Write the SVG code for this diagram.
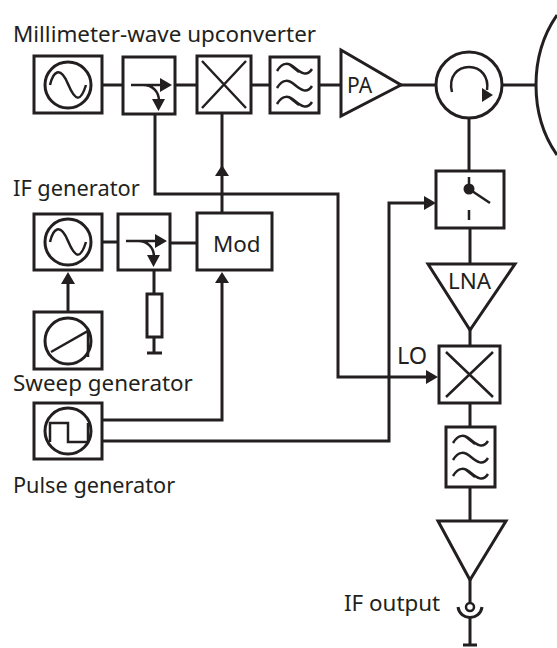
<svg xmlns="http://www.w3.org/2000/svg" width="557" height="648" viewBox="0 0 557 648">
<style>
.b{fill:#fff;stroke:#231f20;stroke-width:3}
.g{fill:none;stroke:#231f20;stroke-width:3}
.t{fill:none;stroke:#231f20;stroke-width:2.5}
.a{fill:#231f20;stroke:none}
text{font-family:"Noto Sans","Open Sans",sans-serif;font-size:22.4px;fill:#231f20}
</style>
<defs>
<g id="filt"><path class="t" d="M-18,-14C-12,-24 -6,-22 0,-17S12,-8 17,-16M-18,3C-12,-7 -6,-5 0,0S12,9 17,1M-18,19C-12,9 -6,11 0,16S12,25 17,17M-6,-21L4,-13M-6,12L4,20"/></g>
<g id="cpl"><path class="t" d="M8,0H40M20,0C30,0 36,7 36,16"/><path class="a" d="M37,-7L49,0L37,7ZM29,14H42L35.500,26Z"/></g>
</defs>
<g id="connectors" class="g">
<path d="M102,85H123M175,85H197M251,85H270M319,85H341M401,85H436M502,85H536M469,118V171"/>
<path d="M155,114V194H338V377H428"/>
<path d="M222,113V213"/>
<path d="M102,242H118M170,243H197M154,270V294M154,337V353M147,353H162"/>
<path d="M68,312V282"/>
<path d="M102,420H222V282"/>
<path d="M102,441H389V203H425"/>
<path d="M470,228V264M470,330V346M470,403V427M470,487V521M470,580V603M470,617V645M463,645H477"/>
<path class="a" d="M222,165L229,176H215ZM68,272L75,284H61ZM222,272L229,283H215ZM436,203L424,196V210ZM438,377L426,370V384Z"/>
</g>
<g id="labels">
<text x="13" y="42">Millimeter-wave upconverter</text>
<text x="13" y="196" style="font-size:21.800px">IF generator</text>
<text x="13" y="391">Sweep generator</text>
<text x="13" y="493" style="font-size:21.700px">Pulse generator</text>
<text x="397" y="364" style="font-size:23.500px">LO</text>
<text x="344" y="611">IF output</text>
</g>
<g id="lo-osc"><rect class="b" x="34" y="56" width="68" height="57"/><circle class="g" cx="68" cy="85" r="23"/><path class="t" d="M50,85C53,72 60,65 68,84S81,101 86,85"/></g>
<g id="coupler1"><rect class="b" x="123" y="57" width="52" height="57"/><use href="#cpl" x="123" y="85"/></g>
<g id="mixer1"><rect class="b" x="197" y="56" width="54" height="57"/><path class="t" d="M202,61L246,108M246,61L202,108"/></g>
<g id="filter1"><rect class="b" x="270" y="57" width="49" height="56"/><use href="#filt" x="295" y="85"/></g>
<g id="pa"><path class="b" d="M341,50L401,85L341,116Z"/><text x="347" y="93" style="font-size:21px">PA</text></g>
<g id="circulator"><circle class="b" cx="469" cy="85" r="33"/><path class="t" d="M452,92C448,76 458,67 469,67C481,67 489,77 487,90"/><path class="a" d="M482,88L493,95L482,102Z"/></g>
<path id="antenna" class="g" d="M557,15C529,55 529,115 557,155"/>
<g id="switch"><rect class="b" x="436" y="171" width="68" height="57"/><path class="t" d="M469,177V189M469,189L490,203M469,210V220"/><circle class="a" cx="469" cy="189" r="5.500"/></g>
<g id="lna"><path class="b" d="M428,264H515L470,330Z"/><text x="448" y="289">LNA</text></g>
<g id="mixer2"><rect class="b" x="439" y="346" width="61" height="57"/><path class="t" d="M446,352L493,397M493,352L446,397"/></g>
<g id="filter2"><rect class="b" x="446" y="427" width="49" height="60"/><use href="#filt" x="471" y="457"/></g>
<g id="output-amp"><path class="b" d="M438,521H506L470,580Z"/></g>
<g id="connector"><circle class="t" cx="470" cy="607" r="4"/><path class="g" d="M458,607C460,621 480,621 482,607"/></g>
<g id="if-osc"><rect class="b" x="34" y="214" width="68" height="56"/><circle class="g" cx="68" cy="242" r="23"/><path class="t" d="M50,242C53,229 60,222 68,241S81,258 86,242"/></g>
<g id="coupler2"><rect class="b" x="118" y="214" width="52" height="56"/><use href="#cpl" x="118" y="241"/></g>
<g id="mod"><rect class="b" x="197" y="213" width="75" height="57"/><text x="213" y="252">Mod</text></g>
<g id="resistor"><rect class="b" x="147" y="294" width="15" height="43"/></g>
<g id="sweep"><rect class="b" x="34" y="312" width="68" height="57"/><circle class="g" cx="68" cy="341" r="23"/><path class="t" d="M51,352L88,331V357"/></g>
<g id="pulse"><rect class="b" x="34" y="403" width="68" height="56"/><circle class="g" cx="68" cy="431" r="23"/><path class="t" d="M50,442V423H68V442H88V423"/></g>
</svg>
